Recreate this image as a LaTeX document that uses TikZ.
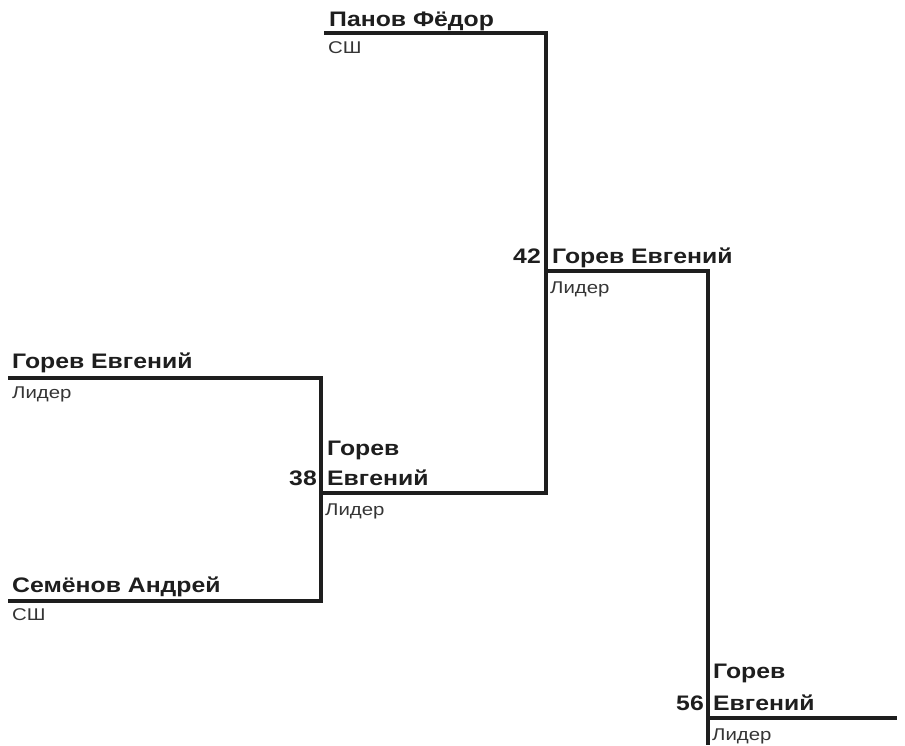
\documentclass[tikz,border=0pt]{standalone}
\usepackage{fontspec}
\setmainfont{Liberation Sans}
\newfontfamily\plboldfont[FakeStretch=1.18]{Liberation Sans}
\newfontfamily\plsubfont[FakeStretch=1.2]{Liberation Sans}
\definecolor{ink}{HTML}{1E1E1E}
\begin{document}
\begin{tikzpicture}[x=1pt,y=-1pt,
  plname/.style={anchor=base west,inner sep=0pt,font=\plboldfont\bfseries\fontsize{21}{25}\selectfont,text=ink},
  plscore/.style={anchor=base east,inner sep=0pt,font=\plboldfont\bfseries\fontsize{21}{25}\selectfont,text=ink},
  plsub/.style={anchor=base west,inner sep=0pt,font=\plsubfont\fontsize{17}{20}\selectfont,text=ink!90},
  wire/.style={line width=4pt,ink,line cap=rect}]
\useasboundingbox (0,0) rectangle (905,745);
% coordinates of the bracket
\coordinate (p1) at (326,33);
\coordinate (p2) at (546,33);
\coordinate (p3) at (546,493);
\coordinate (w42) at (546,271);
\coordinate (e42) at (708,271);
\coordinate (b42) at (708,718);
\coordinate (g1) at (10,378);
\coordinate (g2) at (321,378);
\coordinate (s1) at (10,601);
\coordinate (s2) at (321,601);
\coordinate (w38) at (321,493);
\coordinate (e56) at (895,718);
\coordinate (bot) at (708,745);
% lines
\draw[wire] (p1) -- (p2) -- (p3) -- (w38);
\draw[wire] (w42) -- (e42) -- (b42);
\draw[wire] (g1) -- (g2) -- (s2) -- (s1);
\draw[wire] (b42) -- (e56);
\draw[wire,line cap=butt] (b42) -- (bot);
% texts
\node[plname] (n1) at (329,26) {Панов Фёдор};
\node[plsub] (n1s) at (328,53) {СШ};
\node[plscore] (sc42) at (541,263) {42};
\node[plname] (n42) at (552,263) {Горев Евгений};
\node[plsub] (n42s) at (550,293) {Лидер};
\node[plname] (n2) at (12,368) {Горев Евгений};
\node[plsub] (n2s) at (12,398) {Лидер};
\node[plname] (n38a) at (327,455) {Горев};
\node[plname] (n38b) at (327,485) {Евгений};
\node[plscore] (sc38) at (317,485) {38};
\node[plsub] (n38s) at (325,515) {Лидер};
\node[plname] (n3) at (12,592) {Семёнов Андрей};
\node[plsub] (n3s) at (12,620) {СШ};
\node[plname] (n56a) at (713,678) {Горев};
\node[plname] (n56b) at (713,710) {Евгений};
\node[plscore] (sc56) at (704,710) {56};
\node[plsub] (n56s) at (712,740) {Лидер};
\end{tikzpicture}
\end{document}
